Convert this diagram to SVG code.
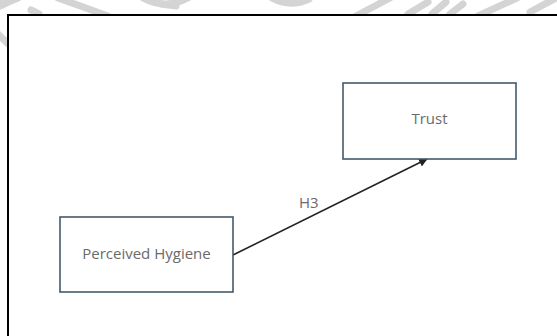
<svg xmlns="http://www.w3.org/2000/svg" width="557" height="336" viewBox="0 0 557 336">
  <style>
    .wm { fill: none; stroke: #d4d4d4; stroke-width: 7; stroke-linecap: round; }
    .node rect { fill: #ffffff; stroke: #44596b; stroke-width: 1.6; }
    .label { font-family: "Open Sans", "Noto Sans", sans-serif; font-size: 15px; fill: #6a6a6a; }
    .edge { stroke: #222222; stroke-width: 1.6; fill: none; }
  </style>
  <defs>
    <marker id="arrow" viewBox="0 0 10 10" refX="9" refY="5" markerWidth="5.5" markerHeight="5.5" orient="auto" markerUnits="strokeWidth">
      <path d="M0,0 L10,5 L0,10 Z" fill="#222222"/>
    </marker>
  </defs>
  <rect x="0" y="0" width="557" height="336" fill="#ffffff"/>
  <g id="watermark">
    <path class="wm" d="M0,6 Q8,2 18,-2"/>
    <path class="wm" d="M31,10 L39,14"/>
    <path class="wm" d="M58,-2 Q80,6 108,16"/>
    <path class="wm" d="M143,-2 Q165,10 188,-2"/>
    <path class="wm" d="M161,4 L176,6"/>
    <path class="wm" d="M272,-2 Q290,8 309,-1"/>
    <path class="wm" d="M356,16 L390,-2"/>
    <path class="wm" d="M408,14 L428,2 M432,14 L446,2 M450,14 L463,4"/>
    <path class="wm" d="M478,16 L517,-2"/>
    <path class="wm" d="M530,12 L556,-2"/>
    <path class="wm" d="M-2,34 L7,43"/>
    <path class="wm" d="M-2,4 L7,-2"/>
  </g>
  <rect id="frame" x="8" y="15" width="560" height="340" fill="#ffffff" stroke="#000000" stroke-width="2"/>
  <g id="connectors">
    <line class="edge" x1="233" y1="255" x2="427" y2="159" marker-end="url(#arrow)"/>
    <text class="label" x="299" y="208">H3</text>
  </g>
  <g id="node-trust" class="node">
    <rect x="343" y="83" width="173" height="76"/>
    <text class="label" x="429.5" y="124" text-anchor="middle">Trust</text>
  </g>
  <g id="node-hygiene" class="node">
    <rect x="60" y="217" width="173" height="75"/>
    <text class="label" x="146.5" y="259" text-anchor="middle">Perceived Hygiene</text>
  </g>
</svg>
